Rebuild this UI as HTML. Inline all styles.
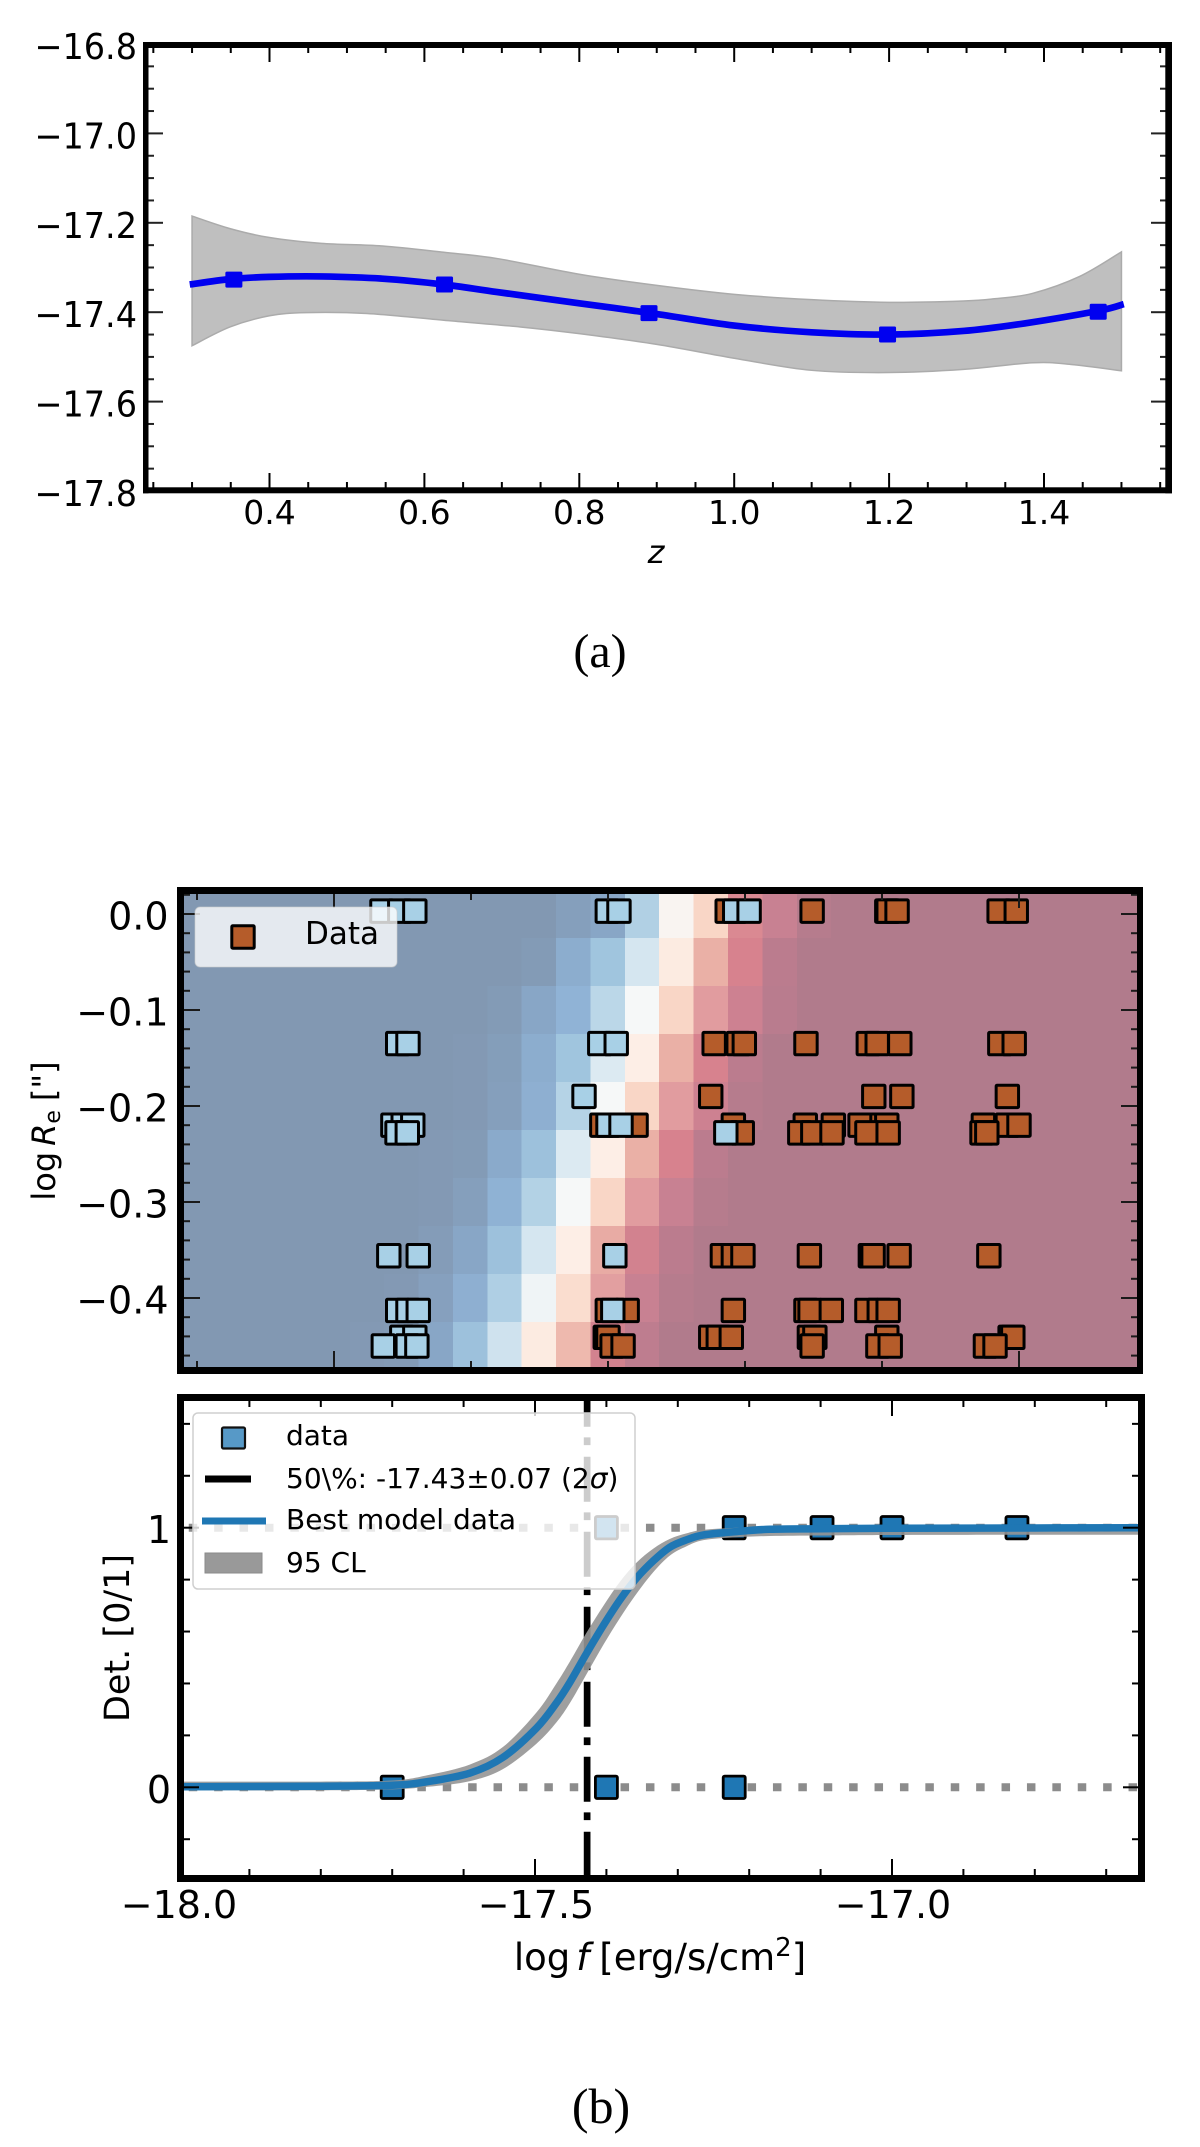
<!DOCTYPE html>
<html lang="en">
<head>
<meta charset="utf-8">
<title>Detection completeness figure</title>
<style>
  html, body { margin: 0; padding: 0; background: #fff; }
  body { width: 1200px; height: 2147px; overflow: hidden; }
  svg { display: block; position: absolute; left: 0; top: 0; }
  text { font-family: "DejaVu Sans", "Liberation Sans", sans-serif; fill: #000; }
  .serif { font-family: "Liberation Serif", serif; }
</style>
</head>
<body>
<svg id="figure" xmlns="http://www.w3.org/2000/svg" width="1200" height="2147" viewBox="0 0 1200 2147">
  <defs>
    <clipPath id="clipTop"><rect x="184" y="894" width="953" height="473"></rect></clipPath>
    <clipPath id="clipBottom"><rect x="184" y="1401" width="954" height="474"></rect></clipPath>
  </defs>

  <g id="panelA"></g>
  <text x="656" y="563" font-size="32" font-style="italic" text-anchor="middle">z</text>
  <text class="serif" x="600" y="667" font-size="48" text-anchor="middle">(a)</text>

  <g id="panelTop"></g>
  <text transform="translate(55,1131) rotate(-90)" font-size="32" text-anchor="middle">log<tspan font-style="italic" dx="6">R</tspan><tspan font-size="22" dy="5">e</tspan><tspan dy="-5" dx="9">["]</tspan></text>

  <g id="panelBottom"></g>
  <text transform="translate(129,1638) rotate(-90)" font-size="35" text-anchor="middle">Det. [0/1]</text>
  <text x="660" y="1970" font-size="37" text-anchor="middle">log<tspan font-style="italic" dx="6">f</tspan><tspan dx="10">[erg/s/cm</tspan><tspan font-size="26" dy="-14">2</tspan><tspan dy="14">]</tspan></text>
  <text class="serif" x="601" y="2123" font-size="50" text-anchor="middle">(b)</text>
</svg>

<script>
/* ---------- Panel (a) data ---------- */
const aLineZ = [0.297, 0.349, 0.40, 0.467, 0.546, 0.625, 0.694, 0.80, 0.892, 1.0, 1.1, 1.2, 1.296, 1.375, 1.47, 1.503];
const aLineV = [-17.338, -17.326, -17.321, -17.32, -17.325, -17.338, -17.355, -17.38, -17.402, -17.43, -17.445, -17.45, -17.442, -17.425, -17.397, -17.382];
const aUpperZ = [0.30, 0.349, 0.40, 0.467, 0.546, 0.625, 0.694, 0.80, 0.90, 1.0, 1.1, 1.2, 1.296, 1.336, 1.385, 1.446, 1.5];
const aUpperV = [-17.185, -17.213, -17.233, -17.246, -17.252, -17.266, -17.28, -17.315, -17.34, -17.36, -17.372, -17.378, -17.375, -17.37, -17.358, -17.32, -17.265];
const aLowerZ = [0.30, 0.349, 0.40, 0.447, 0.526, 0.625, 0.724, 0.80, 0.90, 1.0, 1.1, 1.2, 1.296, 1.386, 1.435, 1.5];
const aLowerV = [-17.475, -17.433, -17.408, -17.401, -17.403, -17.418, -17.433, -17.448, -17.472, -17.503, -17.53, -17.535, -17.528, -17.513, -17.517, -17.531];
const aPointZ = [0.354, 0.626, 0.89, 1.198, 1.47];
const aPointV = [-17.327, -17.338, -17.402, -17.45, -17.399];
const aXTicks = [0.4, 0.6, 0.8, 1.0, 1.2, 1.4];
const aXTickLabels = ["0.4", "0.6", "0.8", "1.0", "1.2", "1.4"];
const aYTicks = [-16.8, -17.0, -17.2, -17.4, -17.6, -17.8];
const aYTickLabels = ["\u221216.8", "\u221217.0", "\u221217.2", "\u221217.4", "\u221217.6", "\u221217.8"];

/* ---------- Panel (b) heatmap data ---------- */
const heatRe = [0, -0.05, -0.10, -0.15, -0.20, -0.25, -0.30, -0.35, -0.40, -0.45];
const heatStartFlux = -18.028;
const heatStepFlux = 0.0502;
const heatValues = [
  [0,0,0,0,0,0, 0,0,0,0,0,.05,.1,.38,.52,.62,.84,.92,.98,1,1,1,1,1,1,1,1,1],
  [0,0,0,0,0,0, 0,0,0,0,.02,.15,.3,.45,.56,.7,.86,.96,1,1,1,1,1,1,1,1,1,1],
  [0,0,0,0,0,0, 0,0,0,.02,.1,.2,.41,.5,.62,.78,.9,.97,1,1,1,1,1,1,1,1,1,1],
  [0,0,0,0,0,0, 0,0,.01,.04,.15,.3,.46,.55,.7,.86,.96,1,1,1,1,1,1,1,1,1,1,1],
  [0,0,0,0,0,0, 0,0,.01,.05,.17,.4,.5,.62,.78,.9,.98,1,1,1,1,1,1,1,1,1,1,1],
  [0,0,0,0,0,0, 0,.01,.02,.13,.28,.46,.55,.7,.86,.96,1,1,1,1,1,1,1,1,1,1,1,1],
  [0,0,0,0,0,0, 0,.01,.05,.19,.39,.5,.62,.78,.92,.98,1,1,1,1,1,1,1,1,1,1,1,1],
  [0,0,0,0,0,0, 0,.03,.1,.28,.45,.55,.72,.88,.96,1,1,1,1,1,1,1,1,1,1,1,1,1],
  [0,0,0,0,0,0, .01,.06,.17,.37,.49,.6,.77,.92,.98,1,1,1,1,1,1,1,1,1,1,1,1,1],
  [0,0,0,0,0,.01, .02,.1,.28,.44,.56,.68,.88,.95,1,1,1,1,1,1,1,1,1,1,1,1,1,1]
];
const topRe = [0.003, -0.135, -0.19, -0.22, -0.228, -0.356, -0.413, -0.441, -0.45];
const topOrangeFlux = [
  [-17.226, -17.102, -16.993, -16.991, -16.978, -16.829, -16.804],
  [-17.245, -17.210, -17.201, -17.111, -17.020, -17.007, -16.974, -16.828, -16.807],
  [-17.250, -17.012, -16.971, -16.817],
  [-17.409, -17.359, -17.217, -17.112, -17.071, -17.032, -17.0, -16.993, -16.852, -16.817, -16.800],
  [-17.204, -17.120, -17.101, -17.073, -17.022, -16.991, -16.854, -16.847],
  [-17.233, -17.217, -17.203, -17.106, -17.017, -17.013, -16.975, -16.844],
  [-17.401, -17.372, -17.217, -17.111, -17.105, -17.074, -17.022, -17.004, -16.991],
  [-17.404, -17.400, -17.250, -17.239, -17.220, -17.106, -17.098, -16.993, -16.813, -16.809],
  [-17.394, -17.378, -17.102, -17.006, -16.988, -16.849, -16.835]
];
const topBlueFlux = [
  [-17.730, -17.704, -17.682, -17.401, -17.384, -17.215, -17.194],
  [-17.707, -17.692, -17.412, -17.388],
  [-17.435],
  [-17.714, -17.699, -17.685, -17.400, -17.381],
  [-17.708, -17.693, -17.228],
  [-17.720, -17.677, -17.390],
  [-17.707, -17.692, -17.677, -17.393],
  [-17.701, -17.682],
  [-17.728, -17.693, -17.679]
];
const topYTicks = [0, -0.1, -0.2, -0.3, -0.4];
const topYTickLabels = ["0.0", "\u22120.1", "\u22120.2", "\u22120.3", "\u22120.4"];
const topYMinorTicks = [0.02,-0.02,-0.04,-0.06,-0.08,-0.12,-0.14,-0.16,-0.18,-0.22,-0.24,-0.26,-0.28,-0.32,-0.34,-0.36,-0.38,-0.42,-0.44,-0.46];
const topXMajorTicks = [-17.8, -16.8];
const topXMinorTicks = [-18.0, -17.6, -17.4, -17.2, -17.0];

/* ---------- Panel (b) detection curve data ---------- */
const curveFlux = [-18, -17.8, -17.7, -17.65, -17.591, -17.545, -17.498, -17.47, -17.451, -17.428, -17.404, -17.381, -17.358, -17.334, -17.311, -17.288, -17.264, -17.218, -17.171, -17.1, -17, -16.8, -16.65];
const curveBest = [.002, .004, .008, .022, .055, .115, .228, .325, .405, .515, .625, .722, .805, .873, .925, .953, .972, .985, .994, .996, .998, .999, 1];
const curveUpper = [.022, .022, .026, .047, .088, .155, .288, .40, .485, .595, .70, .792, .865, .92, .957, .978, .992, 1, 1.003, 1.002, 1.001, 1.001, 1.001];
const curveLower = [-.012, -.012, -.008, .002, .024, .07, .168, .25, .325, .435, .55, .652, .745, .83, .893, .928, .952, .963, .968, .97, .972, .973, .973];
const detFlux = [-17.7, -17.4, -17.221, -17.4, -17.221, -17.098, -17.0, -16.825];
const detValue = [0, 0, 0, 1, 1, 1, 1, 1];
const detLevels = [0, 1];
const thresholdFlux = [-17.427];
const botXMajorTicks = [-18.0, -17.5, -17.0];
const botXTickLabels = ["\u221218.0", "\u221217.5", "\u221217.0"];
const botXMinorTicks = [-17.9, -17.8, -17.7, -17.6, -17.4, -17.3, -17.2, -17.1, -16.9, -16.8, -16.7];
const botYMajorTicks = [0, 1];
const botYTickLabels = ["0", "1"];
const botYMinorTicks = [-0.2, 0.2, 0.4, 0.6, 0.8, 1.2, 1.4];

/* ---------- Axis functions ---------- */
function xA(z) { return 269.5 + (z - 0.4) * 774.5; }
function yA(v) { return 44 + (-16.8 - v) * 447; }
function xT(f) { return 197 + (f + 18) * 685; }
function yT(v) { return 914 - 960 * v; }
function xB(f) { return 178 + (f + 18) * 714; }
function yB(v) { return 1787.3 - 259.6 * v; }

const NS = "http://www.w3.org/2000/svg";
function mk(tag, parent, attrs) {
  const e = document.createElementNS(NS, tag);
  for (const k in attrs) e.setAttribute(k, attrs[k]);
  parent.appendChild(e);
  return e;
}
function smooth(pts) {
  let d = "M" + pts[0][0].toFixed(2) + " " + pts[0][1].toFixed(2);
  d += smoothTail(pts);
  return d;
}
function smoothTail(pts) {
  let d = "";
  for (let i = 0; i < pts.length - 1; i++) {
    const p0 = pts[Math.max(i - 1, 0)], p1 = pts[i], p2 = pts[i + 1], p3 = pts[Math.min(i + 2, pts.length - 1)];
    const c1x = p1[0] + (p2[0] - p0[0]) / 6, c1y = p1[1] + (p2[1] - p0[1]) / 6;
    const c2x = p2[0] - (p3[0] - p1[0]) / 6, c2y = p2[1] - (p3[1] - p1[1]) / 6;
    d += "C" + c1x.toFixed(2) + " " + c1y.toFixed(2) + " " + c2x.toFixed(2) + " " + c2y.toFixed(2) + " " + p2[0].toFixed(2) + " " + p2[1].toFixed(2);
  }
  return d;
}
function zip(xs, ys, fx, fy) { return xs.map(function (x, i) { return [fx(x), fy(ys[i])]; }); }

/* ---------- Panel (a) ---------- */
const pA = document.getElementById("panelA");
const upperPts = zip(aUpperZ, aUpperV, xA, yA);
const lowerPts = zip(aLowerZ, aLowerV, xA, yA).reverse();
const bandA = mk("path", pA, {
  d: smooth(upperPts) + "L" + lowerPts[0][0].toFixed(2) + " " + lowerPts[0][1].toFixed(2) + smoothTail(lowerPts) + "Z",
  fill: "#bfbfbf", stroke: "#ababab", "stroke-width": 1.5
});


const lineA = mk("path", pA, { d: smooth(zip(aLineZ, aLineV, xA, yA)), fill: "none", stroke: "#0000f0", "stroke-width": 6.7 });


aPointZ.forEach(function (z, i) {
  const r = mk("rect", pA, { x: xA(z) - 8.5, y: yA(aPointV[i]) - 8, width: 17, height: 16, rx: 1.5, fill: "#0000f0" });
  
  
});
for (let k = 0; k <= 26; k++) {
  const z = 0.25 + k * 0.05;
  const major = k >= 3 && k <= 23 && (k - 3) % 4 === 0;
  const len = major ? 15 : 6;
  const t1 = mk("line", pA, { x1: xA(z), x2: xA(z), y1: 488, y2: 488 - len, stroke: "#000", "stroke-width": 2 });
  
  
  const t2 = mk("line", pA, { x1: xA(z), x2: xA(z), y1: 47, y2: 47 + len, stroke: "#000", "stroke-width": 2 });
  
  
}
for (let k = 0; k <= 20; k++) {
  const v = -16.8 - k * 0.05;
  const len = k % 4 === 0 ? 15 : 6;
  const t1 = mk("line", pA, { x1: 148, x2: 148 + len, y1: yA(v), y2: yA(v), stroke: "#222", "stroke-width": 2 });
  
  
  const t2 = mk("line", pA, { x1: 1166, x2: 1166 - len, y1: yA(v), y2: yA(v), stroke: "#222", "stroke-width": 2 });
  
  
}
aXTicks.forEach(function (z, i) {
  const t = mk("text", pA, { x: xA(z), y: 524, "font-size": 33, "text-anchor": "middle" });
  t.textContent = aXTickLabels[i];
  
  
});
aYTicks.forEach(function (v, i) {
  const t = mk("text", pA, { transform: "translate(137," + (yA(v) + 15) + ") scale(.93,1)", "font-size": 36, "text-anchor": "end" });
  t.textContent = aYTickLabels[i];
  
  
});
[[143, 42, 5.5, 451.3], [1165.3, 42, 6.7, 451.3], [143, 42, 1029, 6], [143, 487.3, 1029, 6]].forEach(function (s) {
  const r = mk("rect", pA, { x: s[0], y: s[1], width: s[2], height: s[3], fill: "#000" });
  
  
});

/* ---------- Panel (b) heatmap ---------- */
const heatStops = [
  [0, [130,152,178]], [.1, [136,166,198]], [.2, [144,179,214]], [.3, [160,197,222]], [.4, [181,211,230]],
  [.45, [213,230,240]], [.5, [246,248,248]], [.55, [253,238,230]], [.62, [249,214,198]], [.7, [234,176,166]],
  [.78, [225,156,159]], [.86, [215,130,142]], [.92, [200,129,146]], [.96, [187,124,142]], [1, [177,123,140]]
];
function heatColor(v) {
  for (let i = 1; i < heatStops.length; i++) {
    if (v <= heatStops[i][0]) {
      const a = heatStops[i - 1], b = heatStops[i], t = (v - a[0]) / (b[0] - a[0]);
      return "rgb(" + a[1].map(function (c, j) { return Math.round(c + (b[1][j] - c) * t); }).join(",") + ")";
    }
  }
  return "rgb(177,123,140)";
}
const pT = document.getElementById("panelTop");
const gHeat = mk("g", pT, { "clip-path": "url(#clipTop)", "shape-rendering": "crispEdges" });


heatValues.forEach(function (row, r) {
  const cy = yT(heatRe[r]);
  row.forEach(function (val, c) {
    const x0 = xT(heatStartFlux + c * heatStepFlux), x1 = xT(heatStartFlux + (c + 1) * heatStepFlux);
    const cell = mk("rect", gHeat, { x: x0, y: cy - 24, width: x1 - x0 + 0.5, height: 48.5, fill: heatColor(val) });
    
    
  });
});
const gMarks = mk("g", pT, { "clip-path": "url(#clipTop)" });


topOrangeFlux.forEach(function (fluxes, r) {
  fluxes.forEach(function (f) {
    const m = mk("rect", gMarks, { x: xT(f) - 11.2, y: yT(topRe[r]) - 11.2, width: 22.4, height: 22.4, rx: 1, fill: "#b55c2a", stroke: "#000", "stroke-width": 3 });
    
    
  });
});
topBlueFlux.forEach(function (fluxes, r) {
  fluxes.forEach(function (f) {
    const m = mk("rect", gMarks, { x: xT(f) - 11.2, y: yT(topRe[r]) - 11.2, width: 22.4, height: 22.4, rx: 1, fill: "#a8d0e6", stroke: "#000", "stroke-width": 3 });
    
    
  });
});
topXMajorTicks.forEach(function (f) {
  const t1 = mk("line", pT, { x1: xT(f), x2: xT(f), y1: 1367, y2: 1351, stroke: "#1a1a1a", "stroke-width": 2 });
  
  
  const t2 = mk("line", pT, { x1: xT(f), x2: xT(f), y1: 894, y2: 908, stroke: "#1a1a1a", "stroke-width": 2 });
  
  
});
topXMinorTicks.forEach(function (f) {
  const t1 = mk("line", pT, { x1: xT(f), x2: xT(f), y1: 1367, y2: 1361, stroke: "#1a1a1a", "stroke-width": 2 });
  
  
  const t2 = mk("line", pT, { x1: xT(f), x2: xT(f), y1: 894, y2: 900, stroke: "#1a1a1a", "stroke-width": 2 });
  
  
});
topYTicks.forEach(function (v, i) {
  const t1 = mk("line", pT, { x1: 184, x2: 200, y1: yT(v), y2: yT(v), stroke: "#1a1a1a", "stroke-width": 2 });
  
  
  const t2 = mk("line", pT, { x1: 1137, x2: 1121, y1: yT(v), y2: yT(v), stroke: "#1a1a1a", "stroke-width": 2 });
  
  
  const l = mk("text", pT, { x: 168.5, y: yT(v) + 15.5, "font-size": 38, "text-anchor": "end" });
  l.textContent = topYTickLabels[i];
  
  
});
topYMinorTicks.forEach(function (v) {
  const t1 = mk("line", pT, { x1: 184, x2: 190, y1: yT(v), y2: yT(v), stroke: "#1a1a1a", "stroke-width": 2 });
  
  
  const t2 = mk("line", pT, { x1: 1137, x2: 1131, y1: yT(v), y2: yT(v), stroke: "#1a1a1a", "stroke-width": 2 });
  
  
});
const legT = mk("g", pT, {});


const legTBox = mk("rect", legT, { x: 195, y: 907, width: 202, height: 60, rx: 5, fill: "#fff", "fill-opacity": 0.79, stroke: "#ccc", "stroke-opacity": 0.6 });


const legTMark = mk("rect", legT, { x: 231.8, y: 925.8, width: 22.4, height: 22.4, rx: 1, fill: "#b55c2a", stroke: "#000", "stroke-width": 3 });


const legTText = mk("text", legT, { x: 305, y: 944, "font-size": 31 });
legTText.textContent = "Data";


[[177, 887, 7, 487], [1137, 887, 6, 487], [177, 887, 966, 7], [177, 1367, 966, 7]].forEach(function (s) {
  const r = mk("rect", pT, { x: s[0], y: s[1], width: s[2], height: s[3], fill: "#000" });
  
  
});

/* ---------- Panel (b) detection curve ---------- */
const pB = document.getElementById("panelBottom");
const gCurve = mk("g", pB, { "clip-path": "url(#clipBottom)" });


detLevels.forEach(function (v) {
  const d = mk("line", gCurve, { x1: xB(-18), x2: 1138, y1: yB(v), y2: yB(v), stroke: "#8c8c8c", "stroke-width": 8, "stroke-dasharray": "8.5 16.9", "stroke-dashoffset": 14.65 });
  
  
});
detFlux.forEach(function (f, i) {
  const m = mk("rect", gCurve, { x: xB(f) - 11, y: yB(detValue[i]) - 11.2, width: 22, height: 22.4, rx: 1.5, fill: "#1f77b4", stroke: "#000", "stroke-width": 2.8 });
  
  
});
const thr = mk("line", gCurve, { x1: xB(thresholdFlux[0]), x2: xB(thresholdFlux[0]), y1: 1401, y2: 1875, stroke: "#000", "stroke-width": 6.7, "stroke-dasharray": "45 10.7 7.7 11.6", "stroke-dashoffset": 19.3 });


const upB = zip(curveFlux, curveUpper, xB, yB);
const loB = zip(curveFlux, curveLower, xB, yB).reverse();
const bandB = mk("path", gCurve, {
  d: smooth(upB) + "L" + loB[0][0].toFixed(2) + " " + loB[0][1].toFixed(2) + smoothTail(loB) + "Z",
  fill: "#959595", "fill-opacity": 0.9
});


const best = mk("path", gCurve, { d: smooth(zip(curveFlux, curveBest, xB, yB)), fill: "none", stroke: "#1f77b4", "stroke-width": 7.5 });



botXMajorTicks.forEach(function (f, i) {
  if (f > -18) {
    const t1 = mk("line", pB, { x1: xB(f), x2: xB(f), y1: 1875, y2: 1859, stroke: "#000", "stroke-width": 2 });
    
    
    const t2 = mk("line", pB, { x1: xB(f), x2: xB(f), y1: 1401, y2: 1416, stroke: "#000", "stroke-width": 2 });
    
    
  }
  const l = mk("text", pB, { x: xB(f) + 1, y: 1918, "font-size": 38, "text-anchor": "middle" });
  l.textContent = botXTickLabels[i];
  
  
});
botXMinorTicks.forEach(function (f) {
  const t1 = mk("line", pB, { x1: xB(f), x2: xB(f), y1: 1875, y2: 1869, stroke: "#000", "stroke-width": 2 });
  
  
  const t2 = mk("line", pB, { x1: xB(f), x2: xB(f), y1: 1401, y2: 1407, stroke: "#000", "stroke-width": 2 });
  
  
});
botYMajorTicks.forEach(function (v, i) {
  const t1 = mk("line", pB, { x1: 184, x2: 199, y1: yB(v), y2: yB(v), stroke: "#000", "stroke-width": 2 });
  
  
  const t2 = mk("line", pB, { x1: 1138, x2: 1123, y1: yB(v), y2: yB(v), stroke: "#000", "stroke-width": 2 });
  
  
  const l = mk("text", pB, { x: 171, y: yB(v) + 15.5, "font-size": 38, "text-anchor": "end" });
  l.textContent = botYTickLabels[i];
  
  
});
botYMinorTicks.forEach(function (v) {
  const t1 = mk("line", pB, { x1: 184, x2: 190, y1: yB(v), y2: yB(v), stroke: "#000", "stroke-width": 2 });
  
  
  const t2 = mk("line", pB, { x1: 1138, x2: 1132, y1: yB(v), y2: yB(v), stroke: "#000", "stroke-width": 2 });
  
  
});

const legB = mk("g", pB, {});


const legBBox = mk("rect", legB, { x: 193, y: 1413, width: 442, height: 176, rx: 5, fill: "#fff", "fill-opacity": 0.8, stroke: "#cfcfcf", "stroke-width": 1.5 });


const legM = mk("rect", legB, { x: 222, y: 1427.5, width: 23, height: 21, rx: 1.5, fill: "#5799c7", stroke: "#111", "stroke-width": 2.2 });


const legK = mk("rect", legB, { x: 205, y: 1475.5, width: 46, height: 7, fill: "#000" });


const legBl = mk("rect", legB, { x: 202, y: 1517.5, width: 64, height: 7, fill: "#1f77b4" });


const legG = mk("rect", legB, { x: 205, y: 1553, width: 57, height: 20, fill: "#999", stroke: "#8a8a8a", "stroke-width": 1 });


const lt1 = mk("text", legB, { x: 286, y: 1445, "font-size": 28 });
lt1.textContent = "data";


const lt2 = mk("text", legB, { x: 286, y: 1488, "font-size": 28 });
lt2.textContent = "50\\%: -17.43\u00B10.07 (2";


const lt2s = mk("tspan", lt2, { "font-style": "italic" });
lt2s.textContent = "\u03C3";
const lt2e = mk("tspan", lt2, {});
lt2e.textContent = ")";
const lt3 = mk("text", legB, { x: 286, y: 1529, "font-size": 28 });
lt3.textContent = "Best model data";


const lt4 = mk("text", legB, { x: 286, y: 1572, "font-size": 28 });
lt4.textContent = "95 CL";



[[177, 1394, 7, 488], [1138, 1394, 7, 488], [177, 1394, 968, 7], [177, 1875, 968, 7]].forEach(function (s) {
  const r = mk("rect", pB, { x: s[0], y: s[1], width: s[2], height: s[3], fill: "#000" });
  
  
});
</script>
</body>
</html>
